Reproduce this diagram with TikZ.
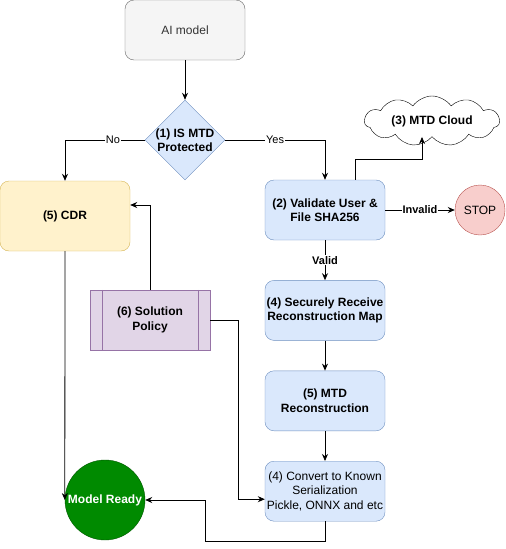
\documentclass[tikz,border=0pt]{standalone}
\usepackage{fontspec}
\setmainfont{Liberation Sans}
\usepackage{xcolor}
\usetikzlibrary{shapes.geometric, shapes.symbols, arrows.meta, positioning}

\definecolor{blueFill}{HTML}{DAE8FC}
\definecolor{blueLine}{HTML}{6C8EBF}
\definecolor{yellowFill}{HTML}{FFF2CC}
\definecolor{yellowLine}{HTML}{D6B656}
\definecolor{redFill}{HTML}{F8CECC}
\definecolor{redLine}{HTML}{B85450}
\definecolor{purpleFill}{HTML}{E1D5E7}
\definecolor{purpleLine}{HTML}{9673A6}
\definecolor{greenFill}{HTML}{008A00}
\definecolor{greenLine}{HTML}{005700}
\definecolor{greyFill}{HTML}{F5F5F5}
\definecolor{greyLine}{HTML}{666666}
\definecolor{greyText}{HTML}{333333}

\begin{document}
\begin{tikzpicture}[
  x=1pt, y=-1pt,
  node distance=30pt and 20pt,
  txt/.style={font=\fontsize{12}{14.4}\selectfont, align=center},
  box/.style={draw=blueLine, fill=blueFill, rounded corners=9pt, minimum width=120pt,
    minimum height=60pt, align=center, inner sep=1pt, font=\fontsize{12}{14.4}\selectfont\bfseries},
  start/.style={draw=greyLine, fill=greyFill, rounded corners=9pt, minimum width=120pt,
    minimum height=60pt, text=greyText, font=\fontsize{12}{14.4}\selectfont},
  decision/.style={diamond, draw=blueLine, fill=blueFill, minimum width=80pt,
    minimum height=80pt, inner sep=0pt},
  endpt/.style={circle, draw, inner sep=0pt, font=\fontsize{12}{14.4}\selectfont},
  lbl/.style={fill=white, inner sep=1pt, font=\fontsize{11}{13}\selectfont},
  arr/.style={-{Stealth[length=7pt,width=6pt]}, line width=0.8pt}
]
  \useasboundingbox (0,0) rectangle (506,549);

  \node[start] (ai) at (185,30) {AI model};
  \node[decision] (mtd) at (185,140) {};
  \node[txt, font=\fontsize{12}{14.4}\selectfont\bfseries] (mtdtxt) at (mtd) {(1) IS MTD\\Protected};

  \node[box, draw=yellowLine, fill=yellowFill, minimum width=130pt, minimum height=70pt] (cdr) at (65,216) {(5) CDR};

  \node[box] (val) at (325,210) {(2) Validate User \&\\File SHA256};
  \node[box, below=40pt of val] (recv) {(4) Securely Receive\\Reconstruction Map};
  \node[box, below=of recv] (rec) {(5) MTD\\Reconstruction};
  \node[box, below=of rec, font=\fontsize{12}{14.4}\selectfont] (conv) {(4) Convert to Known\\Serialization\\Pickle, ONNX and etc};

  \node[endpt, draw=redLine, fill=redFill, minimum size=50pt] (stop) at (480,210) {STOP};
  \node[cloud, cloud puffs=11, cloud puff arc=110, aspect=2.7, draw, fill=white,
    minimum width=135pt, minimum height=50pt, inner sep=0pt] (cloud) at (432,121) {};
  \node[txt, font=\fontsize{12}{14.4}\selectfont\bfseries] (cloudtxt) at (cloud) {(3) MTD Cloud};

  \node[rectangle, draw=purpleLine, fill=purpleFill, minimum width=120pt, minimum height=60pt,
    align=center, font=\fontsize{12}{14.4}\selectfont\bfseries] (pol) at (150,320) {(6) Solution\\Policy};
  \draw[purpleLine] ([xshift=12pt]pol.north west) -- ([xshift=12pt]pol.south west);
  \draw[purpleLine] ([xshift=-12pt]pol.north east) -- ([xshift=-12pt]pol.south east);

  \node[endpt, draw=greenLine, fill=greenFill, minimum size=80pt, text=white,
    font=\fontsize{12}{14.4}\selectfont\bfseries] (ready) at (105,500) {Model Ready};

  % main flow
  \draw[arr] (ai) -- (mtd);
  \draw[arr] (mtd.west) -| node[lbl, pos=0.2]{No} (cdr.north);
  \draw[arr] (mtd.east) -| node[lbl, pos=0.25]{Yes} (val.north);
  \draw[arr] ([xshift=30pt]val.north) -- ++(0,-20) -| ([xshift=-10pt]cloud.south);
  \draw[arr] (val) -- node[lbl, font=\fontsize{11}{13}\selectfont\bfseries]{Invalid} (stop);
  \draw[arr] (val) -- node[lbl, font=\fontsize{11}{13}\selectfont\bfseries]{Valid} (recv);
  \draw[arr] (recv) -- (rec);
  \draw[arr] (rec) -- (conv);
  \draw[arr] (conv.south) -- ++(0,20) -| ([xshift=60pt]ready.east) -- (ready.east);

  % left side
  \draw[arr] (cdr.south) -- (ready.west);
  \draw[arr] (pol.north) |- ([yshift=11pt]cdr.east);
  \draw[arr] (pol.east) -- ++(28,0) |- ([yshift=-8pt]conv.west);
\end{tikzpicture}
\end{document}
